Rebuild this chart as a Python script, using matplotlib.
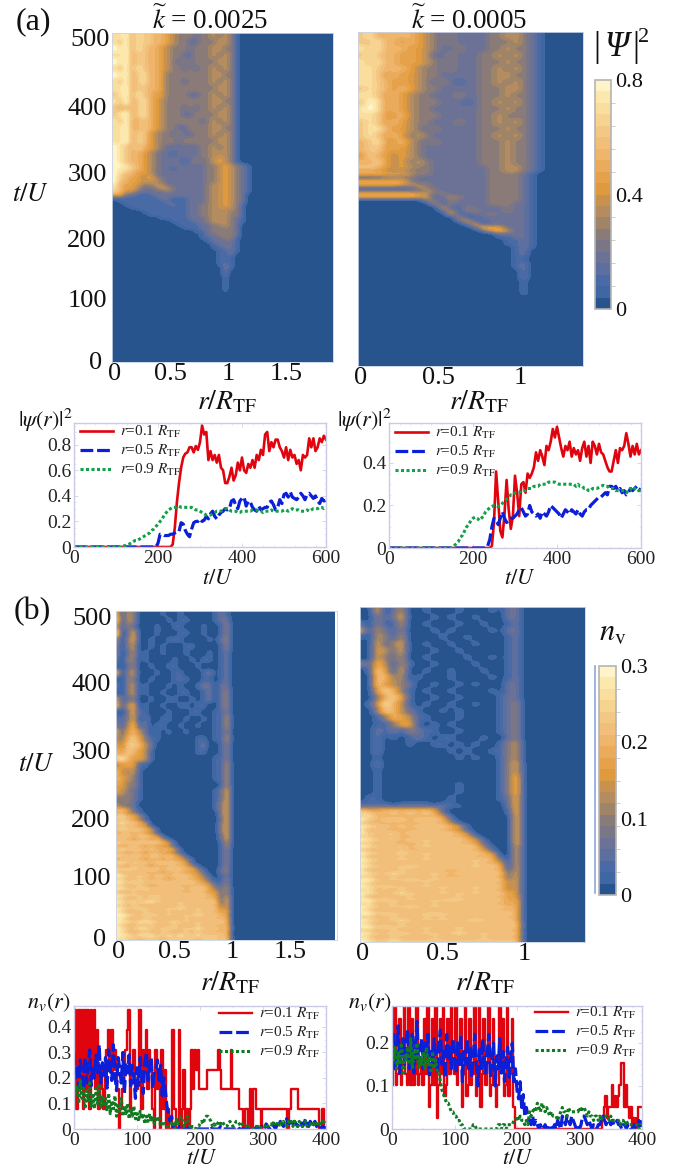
import numpy as np
import matplotlib
matplotlib.use('Agg')
import matplotlib.pyplot as plt
from matplotlib.colors import LinearSegmentedColormap, BoundaryNorm
from matplotlib.lines import Line2D
from matplotlib.transforms import ScaledTranslation

plt.rcParams['font.family'] = 'Liberation Serif'
plt.rcParams['mathtext.fontset'] = 'stix'

W, H = 675, 1169

# heat maps: one char per cell, level 0-9 of the colour scale, columns in steps of 0.05 r/R_TF,
# *_TOP rows go down from t=500 in steps of 10, *_LOW rows carry on in steps of 5, anything not written is 0
PSI_K1_TOP = ["88968776654333233434310", "87968776654332233344310", "98968766543332333443310", "88967766543322333434310",
              "98967766543232333344310", "87968766543323233434310", "98967866533333333443310", "87967866533323333434310",
              "88967766533333333344310", "78968765533332233434310", "87967865433333333443310", "76767865433323233434310",
              "78967865433322333344310", "87966765433333323434310", "88966765433223333443310", "88967754332322333434310",
              "88967754333233333344310", "98767654322222233434310", "98766543221222233444310", "98766543222212323454310"]
PSI_K1_LOW = ["998765432222222233454321", "988765432212222233454321", "987655432222222233454321", "976654532222222233454321",
              "976554543222222233454321", "966554443222222233454321", "865543344322222234454321", "865542234432222234454321",
              "764422222322222234454321", "552211122222222234454320", "111111112211122234454320", "011111111211122234454320",
              "001111111121122334454310", "000111111111122334444310", "000001111111122334443310", "000000111111122334443310",
              "000000001111122234443210", "000000000011112234443210", "000000000001111223343200", "000000000000111223333200",
              "000000000000001123333200", "000000000000000122333200", "000000000000000112233100", "000000000000000012222100",
              "000000000000000001222100", "000000000000000001122100", "000000000000000000112100", "000000000000000000112000",
              "000000000000000000111000", "000000000000000000111000", "000000000000000000121000", "000000000000000000021000",
              "00000000000000000002", "00000000000000000002", "00000000000000000001", "00000000000000000001",
              "00000000000000000001", "00000000000000000001", "00000000000000000001"]

PSI_K2_TOP = ["786666654323222233443210", "778665654323222233343210", "878666554322322233433210", "787665554223222334343210",
              "878665554323222333433210", "887666543323222334343210", "887565543322222334433210", "887655543232122334343210",
              "787656543322222333443210", "887565433222322333433210", "798565433322212334343210", "898565433222222333433210",
              "887556433322222334333210", "787565433222322334343210", "788655432322222333433210", "787565343222222334343210",
              "678556432322222333433210", "677555432222222333433210", "576545432222222333433210", "667545343222222333433210"]
PSI_K2_LOW = ["776545433222222233443210", "555444333222222233443210", "666555433222222233332100", "222333322222222233332100",
              "555555322222222233332100", "666665433222222233332100", "222222243222222233332100", "222222224322222233332100",
              "666666654232222233332100", "555555545124322233332100", "000000003313222233332100", "000000000413222233322100",
              "000000000051132222322100", "000000000024133222322100", "000000000005112232222100", "000000000000411222222100",
              "000000000000251122222100", "000000000000025122222100", "000000000000002655222100", "000000000000000256422100",
              "000000000000000002222100", "000000000000000001122100", "000000000000000000112100", "000000000000000000112100",
              "000000000000000000012100", "000000000000000000012000", "000000000000000000012000", "000000000000000000011000",
              "000000000000000000011000", "000000000000000000012000", "000000000000000000012", "000000000000000000002",
              "000000000000000000002", "000000000000000000002", "000000000000000000001", "000000000000000000001",
              "000000000000000000001", "000000000000000000001", "000000000000000000001"]

NV_K1_TOP = ["61430000100100000121", "71430000010110000122", "51320001001100010013", "80250001000110010013",
             "40350010011100001023", "30340010100011000013", "30240100100010001012", "20330100001001011012",
             "10230010011000100012", "60340001001100012012", "10330010001110011012", "20340100010100122022",
             "10340100100110012023", "51230010011001012023", "61450100100110110023", "10351100010001100113",
             "21350200110010010114", "31461201100100100114", "52564201010010000113", "43675311000000110114",
             "54776420000000120013", "65765410000000110013", "78655410000000000113", "45551100000000000114",
             "64441000000000000114", "65431000000000000114", "55331000000000000014", "54321000000000000125",
             "33321000000000000125"]
NV_K1_LOW = ["33320000000000000135", "43220000000000000135", "67521000000000000135", "56431000000000000035",
             "78664100000000000035", "67653100000000000025", "78776400000000000035", "67665510000000000035",
             "78777651000000000035", "56666541000000000035", "77767765100000000025", "66656656410000000025",
             "87777777651000000014", "65666565541000000014", "78777676665100000013", "66566566553100000013",
             "87777677676410000013", "56666566565531000013", "88777767777651000013", "66576656666653100013",
             "87877777677766310023", "76666666566655420023", "98777767767776531012", "77667666656666542013",
             "98787777777777653113", "77667656666666665223", "98777877777767775324", "66676666666666665524",
             "98777777777777776524", "77667677666666666625", "98787887777777777725", "77676666666766666635",
             "98778777777877777745", "87666766676666766656", "99877787777777877765", "88666766666676666666",
             "98878887778777777776", "87667676667666766666", "98778877787777877767", "88666766766676766666",
             "98878887787877877776", "88776777677777677767"]

NV_K2_TOP = ["00502400100010001022", "00312500010100100022", "20311400100010010012", "50421300010100001022",
             "10431400001001000012", "00523500100100100012", "00542500010010000012", "00532400100001001012",
             "31641410010000100012", "01751500100100010012", "00763401000100001012", "00754320010010100022",
             "00576310100100001022", "00367510010010000122", "01486410100100100123", "00376421001010000123",
             "00136541100010000123", "00113551010100000123", "00212132110010000123", "00201012101100010023",
             "00200010011010100134", "00200000000101001134", "00100000000010100134", "00200000000000000135",
             "00100000000000000135", "00100000000000000136", "00100000000010000136", "00100000000010000136",
             "01100000000100000126"]
NV_K2_LOW = ["11110111101100000026", "22222222222110000026", "65566666651000000016", "87667676762000000016",
             "78666666665100000006", "97677767776200000006", "76666666666410000006", "98776767777651000006",
             "86666666666541000006", "97777677777764000006", "77667666666665200006", "98777677777776510006",
             "77666666766666520006", "98777767777777731005", "76666766666666651005", "98777777777777765005",
             "86666766766666666105", "98777777777777776305", "87666666666666766505", "98777787777777777605",
             "86666766666666666615", "98778777777677777725", "77667666676666666625", "99777787777777777735",
             "87666666766666666645", "98787777777777777735", "78666766667666766645", "98777877777777777755",
             "86666676666676666655", "99787777777877777756", "78667666676666666656", "98777787777777777766",
             "87666666666666666666", "99787777787777777776", "77667666767666666666", "98777877777777877776",
             "87666766666666666667", "99787777777777777777", "77667666766676666666", "98777877777787777777",
             "87667666676666676666", "98778777777777777777"]

# |psi(r)|^2 against t/U, one value every 5
RED_A1 = [0] * 40 + [0, 0, 0, 0, 0, 0, 0, .02, .15, .35,
    .50, .62, .70, .73, .74, .78, .78, .74, .79, .76,
    .82, .95, .88, .90, .68, .75, .68, .72, .66, .72,
    .62, .60, .50, .50, .55, .62, .52, .56, .66, .60,
    .70, .60, .58, .65, .62, .68, .62, .72, .68, .76,
    .72, .88, .90, .75, .82, .78, .84, .84, .78, .75,
    .70, .78, .68, .76, .70, .72, .65, .68, .60, .72,
    .70, .72, .85, .78, .85, .75, .78, .85, .82, .87, .84]
BLUE_A1 = [0] * 40 + [.03, .10, .10, .09, .09, .09, .10, .10, .11, .12,
    .12, .19, .18, .13, .10, .08, .14, .19, .20, .20,
    .22, .20, .21, .24, .22, .26, .28, .24, .22, .25,
    .27, .28, .30, .29, .30, .36, .37, .33, .30, .36,
    .38, .39, .32, .36, .35, .31, .29, .28, .32, .29,
    .30, .31, .31, .35, .36, .33, .29, .31, .37, .34,
    .41, .42, .39, .43, .39, .38, .37, .39, .42, .40,
    .37, .41, .42, .40, .38, .40, .36, .34, .38, .36, .37]
GREEN_A1 = [0] * 20 + [0, 0, 0, 0, .01, .015, .02, .03, .04, .05,
    .05, .06, .07, .08, .09, .10, .11, .13, .14, .16,
    .18, .20, .22, .25, .27, .29, .30, .31, .31, .31,
    .32, .31, .31, .31, .31, .31, .31, .30, .29, .29,
    .28, .27, .26, .25, .25, .25, .26, .27, .28, .28,
    .28, .29, .30, .30, .29, .28, .28, .28, .27, .27,
    .28, .28, .28, .28, .28, .29, .29, .29, .28, .28,
    .27, .28, .28, .28, .29, .28, .28, .28, .28, .28,
    .29, .29, .28, .29, .30, .29, .29, .29, .28, .28,
    .28, .29, .28, .29, .30, .30, .30, .31, .31, .30, .31]

RED_A2 = [0] * 40 + [0, 0, 0, 0, 0, 0, 0, 0, 0, .01,
    .12, .36, .22, .08, .05, .16, .32, .18, .09, .15,
    .34, .26, .15, .30, .31, .26, .35, .33, .35, .38,
    .45, .41, .46, .43, .39, .48, .46, .50, .56, .52,
    .57, .52, .47, .43, .48, .46, .50, .43, .47, .44,
    .46, .41, .47, .50, .43, .48, .40, .50, .48, .44,
    .49, .45, .44, .41, .38, .36, .36, .41, .46, .40,
    .47, .46, .48, .54, .49, .43, .48, .44, .49, .44, .46]
BLUE_A2 = [0] * 40 + [0, 0, 0, 0, 0, 0, 0, .01, .04, .10,
    .14, .13, .11, .14, .17, .14, .12, .13, .14, .14,
    .15, .16, .18, .19, .17, .15, .16, .20, .17, .16,
    .15, .16, .14, .17, .16, .15, .17, .20, .19, .18,
    .17, .16, .14, .16, .18, .17, .16, .18, .17, .16,
    .18, .16, .15, .17, .18, .18, .20, .21, .22, .23,
    .24, .24, .25, .26, .25, .29, .29, .28, .29, .27,
    .28, .26, .27, .25, .26, .28, .27, .28, .29, .27, .28]
GREEN_A2 = [0] * 30 + [0, .01, .02, .03, .05, .06, .08, .10, .11, .13,
    .14, .145, .14, .13, .14, .15, .17, .18, .19, .195,
    .20, .20, .195, .20, .21, .22, .23, .24, .25, .25,
    .26, .26, .26, .27, .27, .27, .28, .28, .28, .29,
    .29, .29, .30, .30, .30, .30, .31, .31, .31, .31,
    .305, .30, .30, .30, .30, .30, .30, .30, .30, .29,
    .30, .29, .29, .28, .28, .27, .27, .28, .28, .28,
    .285, .29, .295, .29, .29, .28, .28, .28, .27, .27,
    .27, .27, .27, .26, .27, .28, .27, .28, .27, .27, .27]

# n_v(r) against t/U, one value every 2.5; blue and green in hundredths, red as steps of NV_STEP
RED_B1 = ("26162616261636251321" "34535343201234561342" "23614352431042304130" "10051005013010142434"
          "22222333333343222222" "42222111011020221110" "11111111111111110122" "222111111111111100100")
BLUE_B1 = [30, 20, 24, 16, 27, 22, 15, 28, 18, 24, 31, 17, 25, 20, 29, 22, 33, 18, 26, 21,
    28, 16, 31, 24, 19, 33, 21, 15, 28, 24, 18, 30, 14, 26, 22, 29, 17, 25, 20, 12,
    24, 17, 28, 20, 14, 26, 30, 19, 24, 28, 16, 23, 24, 27, 19, 25, 13, 20, 15, 9,
    6, 3, 5, 1, 0, 0, 0, 1, 0, 0, 0, 0, 0, 1, 0, 0, 0, 0, 0, 0,
    0, 0, 0, 0, 0, 0, 0, 1, 0, 0, 0, 0, 0, 1, 0, 0, 0, 0, 0, 0,
    0, 0, 0, 0, 1, 0, 0, 0, 0, 0, 0, 0, 0, 0, 0, 0, 1, 0, 0, 1,
    1, 0, 2, 1, 0, 1, 2, 1, 0, 2, 1, 3, 2, 1, 3, 4, 2, 3, 1, 2,
    3, 2, 1, 2, 3, 1, 2, 4, 2, 1, 3, 1, 2, 3, 1, 2, 1, 0, 1, 0, 1]
GREEN_B1 = [21, 13, 17, 10, 19, 12, 16, 8, 15, 11, 18, 9, 14, 8, 16, 10, 17, 8, 13, 9,
    12, 7, 14, 6, 11, 8, 13, 5, 10, 7, 12, 5, 9, 6, 10, 4, 8, 5, 9, 4,
    6, 3, 7, 4, 6, 2, 5, 3, 6, 3, 5, 2, 4, 3, 5, 1, 3, 2, 2, 1,
    1, 1, 3, 2, 0, 4, 2, 4, 5, 3, 1, 3, 5, 2, 0, 1, 1, 0, 1, 1,
    2, 3, 2, 4, 5, 5, 4, 3, 1, 2, 1, 2, 3, 2, 3, 2, 1, 1, 2, 3,
    2, 1, 2, 3, 3, 2, 1, 2, 1, 1, 2, 1, 1, 1, 0, 1, 1, 1, 0, 1,
    1, 1, 2, 1, 2, 2, 1, 3, 2, 2, 1, 3, 2, 3, 2, 1, 3, 2, 3, 1,
    3, 2, 1, 3, 2, 1, 2, 3, 1, 2, 2, 1, 3, 2, 1, 3, 2, 2, 3, 2, 3]

RED_B2 = ("46d45a46c54d4a45d456" "4a5c24a4d14a5c34a5d6" "5c46a25c34a45c34d25a" "46c34a524c6a34c35a20"
          "00000000000000000000" "00000000000000000000" "00000000000000012312" "242323466242120101222")
BLUE_B2 = [16, 22, 14, 19, 24, 13, 18, 21, 15, 20, 23, 14, 17, 22, 13, 19, 25, 15, 18, 21,
    14, 20, 17, 22, 12, 18, 15, 21, 17, 13, 20, 23, 15, 18, 12, 22, 16, 19, 14, 21,
    17, 13, 20, 15, 22, 11, 18, 15, 21, 14, 19, 12, 17, 22, 15, 10, 19, 14, 21, 16,
    13, 18, 22, 12, 16, 20, 10, 17, 14, 21, 13, 18, 11, 16, 19, 12, 17, 20, 11, 14,
    9, 7, 11, 5, 8, 3, 5, 3, 2, 1, 3, 1, 2, 1, 0, 1, 0, 0, 1, 0,
    0, 1, 0, 0, 1, 0, 2, 1, 0, 3, 2, 1, 3, 2, 1, 3, 2, 1, 0, 1,
    0, 1, 3, 3, 2, 1, 2, 1, 0, 1, 0, 0, 1, 1, 2, 3, 2, 1, 2, 2,
    1, 2, 1, 1, 2, 1, 1, 0, 1, 1, 0, 1, 1, 0, 0, 1, 0, 0, 2, 0, 2]
GREEN_B2 = [20, 16, 19, 14, 18, 15, 20, 13, 17, 16, 19, 15, 21, 14, 18, 16, 20, 14, 17, 15,
    18, 14, 19, 15, 17, 13, 18, 14, 16, 13, 13, 11, 9, 8, 7, 6, 6, 5, 4, 4,
    3, 3, 2, 2, 1, 1, 0, 0, 0, 0, 0, 0, 1, 1, 0, 0, 0, 0, 0, 0,
    0, 0, 0, 0, 0, 0, 0, 0, 1, 1, 0, 1, 1, 0, 1, 1, 1, 1, 2, 2,
    3, 2, 3, 2, 2, 1, 2, 1, 4, 3, 4, 5, 4, 6, 5, 4, 6, 5, 4, 5,
    4, 3, 4, 3, 3, 3, 2, 3, 4, 5, 4, 4, 3, 5, 4, 4, 4, 4, 4, 4,
    5, 4, 5, 5, 4, 3, 4, 3, 3, 2, 3, 3, 2, 3, 2, 3, 3, 3, 3, 2,
    3, 2, 2, 2, 2, 2, 1, 2, 2, 1, 2, 1, 1, 1, 1, 1, 1, 1, 0, 1, 1]

NV_STEP_1 = 0.0775
NV_STEP_2 = 0.0255
T_TICKS = [0, 100, 200, 300, 400, 500]
T_LABELS = ['0', '100', '200', '300', '400', '500']
CURVE_NAMES = [r'$r$=0.1 $R_{\mathrm{TF}}$', r'$r$=0.5 $R_{\mathrm{TF}}$', r'$r$=0.9 $R_{\mathrm{TF}}$']
BAND_COLORS = ['#27548c', '#3f67a3', '#4a6aa6', '#5c6f9e', '#6b7296', '#7a7685', '#8a7b78', '#a08468', '#b58c60', '#c8924e',
               '#df9a3e', '#e6a24a', '#eaab5c', '#eeb56b', '#f1bf79', '#f3c885', '#f6d390', '#f9de9e', '#fce8ad', '#fff3c8']

cmap = LinearSegmentedColormap.from_list('bands', BAND_COLORS, N=20)
fig = plt.figure(figsize=(6.75, 11.69), dpi=100)


def box(l, t, r, b):
    return fig.add_axes([l / W, 1 - b / H, (r - l) / W, (b - t) / H])


def put(x, y, s, size=16, **kw):
    fig.text(x / W, 1 - y / H, s, ha='center', va='center', fontsize=size, color='#111111', **kw)


def nudge(label, dx, dy):
    # the printed tick labels sit a few pixels off their true places
    label.set_transform(label.get_transform() + ScaledTranslation(dx / 100, dy / 100, fig.dpi_scale_trans))


def heat(rect, top, low, ncols, vmax, xmax, xticks, xlab, edge=0.0):
    ax = box(*rect)
    rows = [r for r in top for _ in range(2)] + low
    rows = rows + [""] * (100 - len(rows))
    grid = np.array([[int(c) for c in row.ljust(ncols, '0')] for row in rows]) * vmax / 9
    norm = BoundaryNorm(np.linspace(0, vmax, 21), 20)
    im = ax.imshow(grid, cmap=cmap, norm=norm, extent=(edge, ncols * 0.05 + edge, 0, 500), aspect='auto',
                   interpolation='bicubic', interpolation_stage='data')
    ax.set_xlim(0, xmax)
    ax.set_ylim(0, 500)
    ax.set_xticks(xticks)
    ax.set_xticklabels(xlab)
    ax.tick_params(length=0, labelsize=19, pad=1, labelcolor='#111111')
    ax.tick_params(axis='y', pad=3)
    nudge(ax.get_xticklabels()[0], 3, 0)
    for sp in ax.spines.values():
        sp.set_color('#c9d3e6')
        sp.set_linewidth(0.6)
    return ax, im


def bar(im, rect, ticks, labels, vmax):
    cax = box(*rect)
    cb = fig.colorbar(im, cax=cax, ticks=ticks)
    cb.ax.set_yticklabels(labels)
    cb.ax.set_yticks(np.linspace(0, vmax, 11), minor=True)
    cb.ax.tick_params(which='major', length=0, labelsize=16, pad=3, labelcolor='#111111')
    cb.ax.tick_params(which='minor', length=3, width=0.6, color='#c4c4c4', direction='out')
    cb.outline.set_edgecolor('#b4b4b4')
    cb.outline.set_linewidth(1.2)


def lines(rect, t, red, blue, green, xmax, ymax, xticks, yticks, ylab, leg, thick, green_col, red_steps=False):
    ax = box(*rect)
    ax.plot(t[0], red, color='#e0040f', lw=thick, drawstyle='steps-mid' if red_steps else 'default', label=CURVE_NAMES[0])
    ax.plot(t[1], blue, color='#0b1ed8', lw=2.3, ls=(0, (4, 1.2)), label=CURVE_NAMES[1])
    ax.plot(t[2], green, color=green_col, lw=2.2, ls=(0, (1, 0.8)), label=CURVE_NAMES[2])
    ax.set_xlim(0, xmax)
    ax.set_ylim(0, ymax)
    ax.set_xticks(xticks)
    ax.set_yticks(yticks)
    ax.set_yticklabels(ylab)
    ax.tick_params(length=3, width=0.5, color='#c5c8e4', direction='in', top=True, right=True,
                   labelsize=14, pad=2, labelcolor='#222222')
    ax.set_xticks(np.arange(0, xmax + 1, xmax / 24), minor=True)
    ax.set_yticks(np.arange(0, ymax, yticks[1] / 4), minor=True)
    ax.tick_params(which='minor', length=1.5, width=0.4, color='#d5d7ec', direction='in', top=True, right=True)
    for sp in ax.spines.values():
        sp.set_color('#c8cae6')
        sp.set_linewidth(1.0)
    ax.legend(loc='upper left', bbox_to_anchor=(leg[0] / W, 1 - leg[1] / H), bbox_transform=fig.transFigure, frameon=False,
              fontsize=11, handlelength=2.15, handletextpad=0.45, borderpad=0, borderaxespad=0, labelspacing=0.2,
              labelcolor='#222222')
    return ax


ax1, im1 = heat((112, 33, 333, 362), PSI_K1_TOP, PSI_K1_LOW, 38, 0.8, 1.9, [0, 0.5, 1, 1.5], ['0', '0.5', '1', '1.5'])
ax2, im2 = heat((358, 32, 583, 366), PSI_K2_TOP, PSI_K2_LOW, 28, 0.8, 1.39, [0, 0.5, 1], ['0', '0.5', '1'])
ax3, im3 = heat((116, 611, 337, 940), NV_K1_TOP, NV_K1_LOW, 38, 0.3, 1.9, [0, 0.5, 1, 1.5], ['0', '0.5', '1', '1.5'], edge=-0.02)
ax4, im4 = heat((360, 607, 585, 942), NV_K2_TOP, NV_K2_LOW, 28, 0.3, 1.37, [0, 0.5, 1], ['0', '0.5', '1'], edge=-0.02)

for ax, offsets in ((ax1, [(-6, 2), (-1, -2), (-1, -8), (-1, -8), (-1, -8), (2, -5)]),
                    (ax3, [(-6, 2), (-1, -2), (-1, -10), (-1, -8), (-1, -6), (0, -6)])):
    ax.set_yticks(T_TICKS)
    ax.set_yticklabels(T_LABELS)
    for lab, (dx, dy) in zip(ax.get_yticklabels(), offsets):
        nudge(lab, dx, dy)
for ax in (ax2, ax4):
    ax.set_yticks([])

bar(im2, (595, 80, 611, 309), [0, 0.4, 0.8], ['0', '0.4', '0.8'], 0.8)
bar(im4, (599, 666, 616, 895), [0, 0.1, 0.2, 0.3], ['0', '0.1', '0.2', '0.3'], 0.3)
fig.add_artist(Line2D([595 / W, 595 / W], [1 - 666 / H, 1 - 893 / H], color='#8ea6d8', lw=1.2))

t5 = lambda v: 5 * np.arange(len(v))
t25 = lambda v: 2.5 * np.arange(len(v))
lines((74, 423, 326, 547), (t5(RED_A1), t5(BLUE_A1), t5(GREEN_A1)), RED_A1, BLUE_A1, GREEN_A1, 600, 0.97,
      [0, 200, 400, 600], [0, 0.2, 0.4, 0.6, 0.8], ['0', '0.2', '0.4', '0.6', '0.8'], (80, 424), 1.9, '#12a04a')
lines((389, 423, 641, 548), (t5(RED_A2), t5(BLUE_A2), t5(GREEN_A2)), RED_A2, BLUE_A2, GREEN_A2, 600, 0.588,
      [0, 200, 400, 600], [0, 0.2, 0.4], ['0', '0.2', '0.4'], (395, 425), 1.9, '#12a04a')

red_b1 = [int(c, 16) * NV_STEP_1 for c in RED_B1]
red_b2 = [int(c, 16) * NV_STEP_2 for c in RED_B2]
blue_b1, green_b1 = np.array(BLUE_B1) / 100, np.array(GREEN_B1) / 100
blue_b2, green_b2 = np.array(BLUE_B2) / 100, np.array(GREEN_B2) / 100
lines((74, 1006, 326, 1129), (t25(red_b1), t25(blue_b1), t25(green_b1)), red_b1, blue_b1, green_b1, 400, 0.482,
      [0, 100, 200, 300, 400], [0, 0.1, 0.2, 0.3, 0.4], ['0', '0.1', '0.2', '0.3', '0.4'], (219, 1006), 1.7, '#0f7a22', True)
lines((392, 1006, 642, 1129), (t25(red_b2), t25(blue_b2), t25(green_b2)), red_b2, blue_b2, green_b2, 400, 0.286,
      [0, 100, 200, 300, 400], [0, 0.1, 0.2], ['0', '0.1', '0.2'], (535, 1005), 1.7, '#0f7a22', True)

put(33, 22, '(a)', 23)
put(32, 612, '(b)', 23)
put(210, 20, r'$\widetilde{k}$ = 0.0025', 19.5)
put(469, 20, r'$\widetilde{k}$ = 0.0005', 19.5)
put(30, 195, r'$t/U$', 19)
put(36, 765, r'$t/U$', 19)
put(227, 402, r'$r/R_{\mathrm{TF}}$', 20)
put(479, 402, r'$r/R_{\mathrm{TF}}$', 20)
put(230, 983, r'$r/R_{\mathrm{TF}}$', 20)
put(485, 983, r'$r/R_{\mathrm{TF}}$', 20)
put(597, 47, '|', 25)
put(617, 47, 'Ψ', 25, style='italic')
put(636, 47, '|', 25)
put(644, 38, '2', 16)
put(613, 633, r'$n_{\mathrm{v}}$', 22)
put(46, 420, r'$|\psi(r)|^2$', 16)
put(365, 420, r'$|\psi(r)|^2$', 16)
put(49, 1003, r'$n_v(r)$', 16)
put(370, 1003, r'$n_v(r)$', 16)
put(218, 579, r'$t/U$', 16)
put(520, 579, r'$t/U$', 16)
put(202, 1160, r'$t/U$', 16)
put(518, 1160, r'$t/U$', 16)

fig.savefig('out.png', dpi=100)
